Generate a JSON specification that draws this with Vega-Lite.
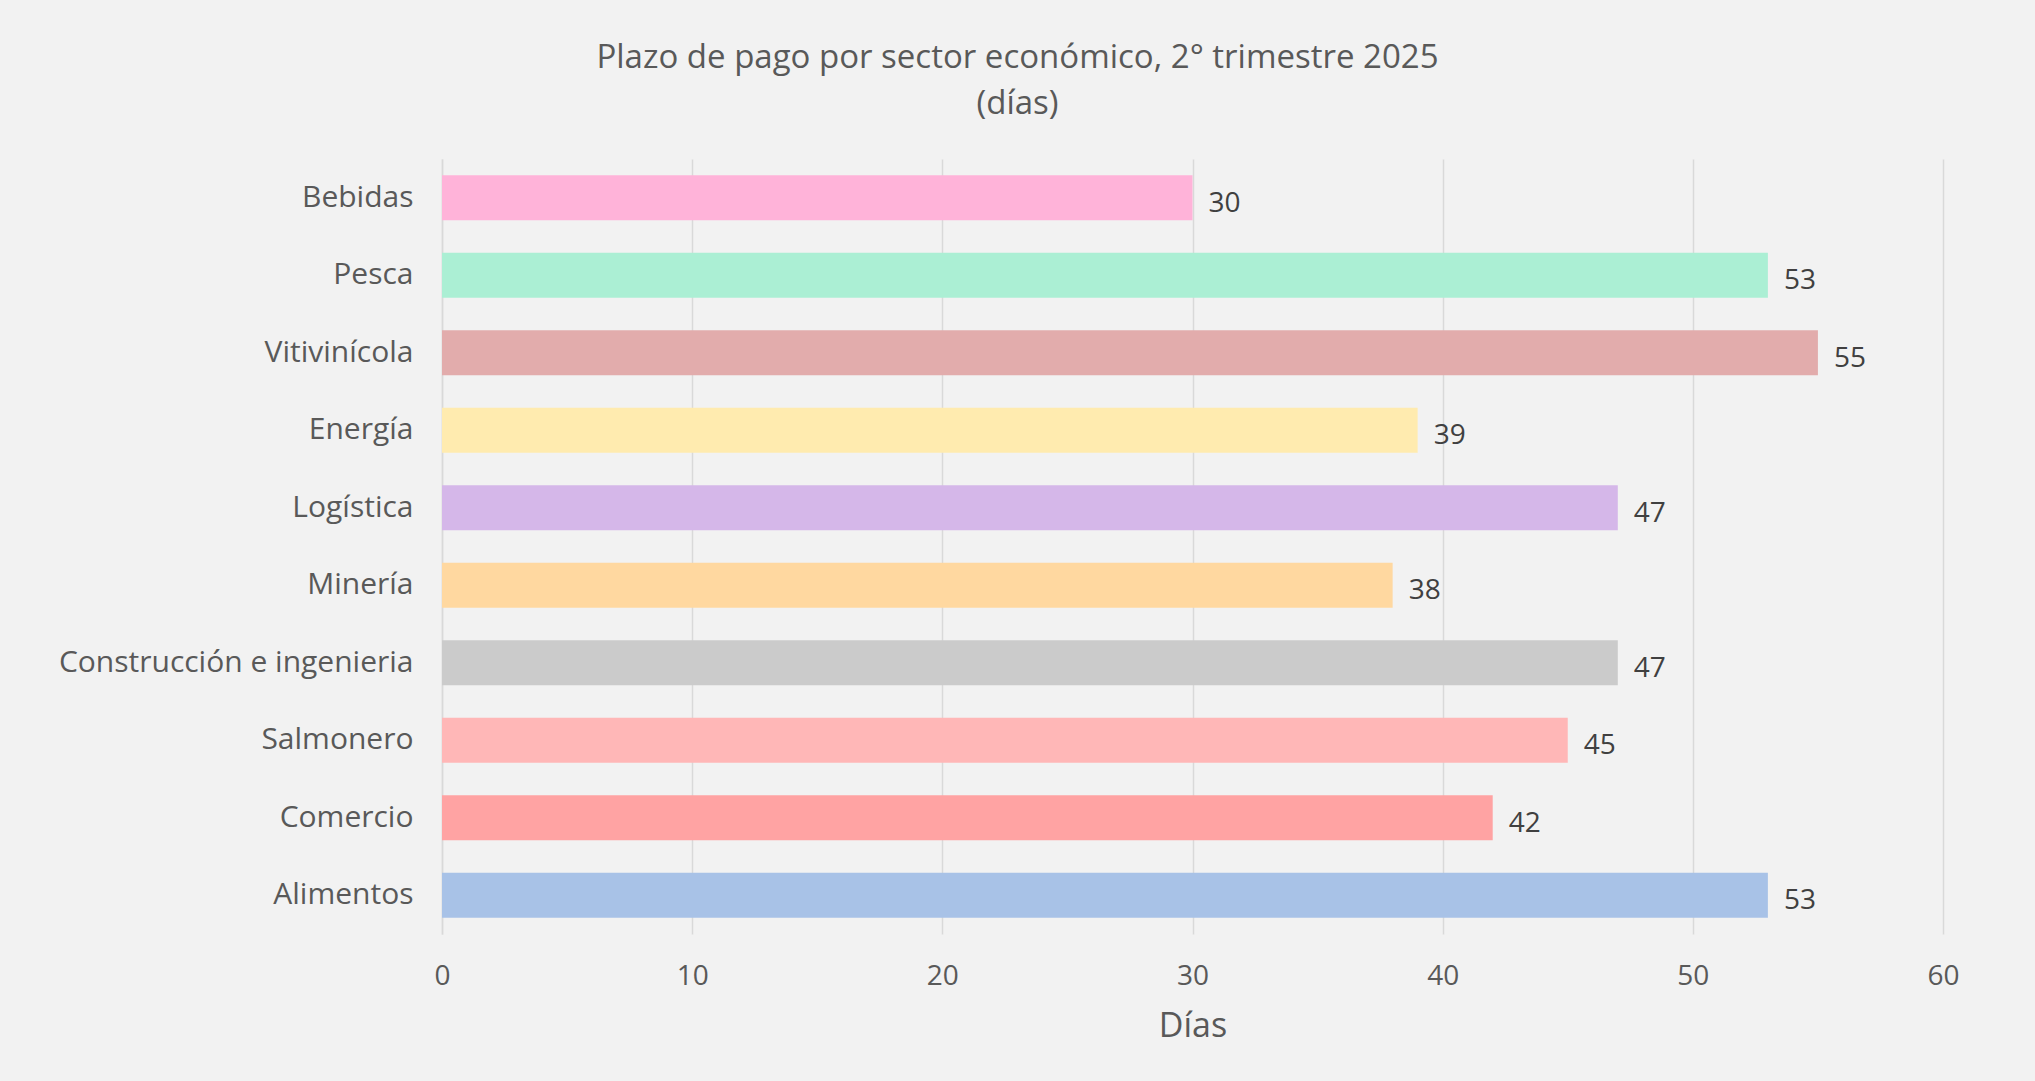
{
  "$schema": "https://vega.github.io/schema/vega-lite/v6.json",
  "autosize": {"type": "none"},
  "padding": {"left": 442, "top": 159, "right": 92, "bottom": 147},
  "width": 1501,
  "height": 775,
  "background": "#f2f2f2",
  "config": {"view": {"stroke": null}},
  "title": {
    "text": ["Plazo de pago por sector económico, 2° trimestre 2025", "(días)"],
    "anchor": "middle",
    "frame": "group",
    "dx": -175,
    "offset": 38,
    "fontSize": 33,
    "lineHeight": 46,
    "fontWeight": "normal",
    "font": "Open Sans",
    "color": "#595959"
  },
  "data": {
    "values": [
      {"sector": "Bebidas", "dias": 30},
      {"sector": "Pesca", "dias": 53},
      {"sector": "Vitivinícola", "dias": 55},
      {"sector": "Energía", "dias": 39},
      {"sector": "Logística", "dias": 47},
      {"sector": "Minería", "dias": 38},
      {"sector": "Construcción e ingenieria", "dias": 47},
      {"sector": "Salmonero", "dias": 45},
      {"sector": "Comercio", "dias": 42},
      {"sector": "Alimentos", "dias": 53}
    ]
  },
  "encoding": {
    "y": {
      "field": "sector",
      "type": "nominal",
      "sort": null,
      "scale": {"paddingInner": 0.42, "paddingOuter": 0.21},
      "axis": {
        "title": null,
        "ticks": false,
        "domain": true,
        "domainColor": "#d9d9d9",
        "domainWidth": 1.5,
        "labelFont": "Open Sans",
        "labelFontSize": 30,
        "labelColor": "#595959",
        "labelPadding": 29,
        "labelLimit": 600
      }
    },
    "x": {
      "field": "dias",
      "type": "quantitative",
      "scale": {"domain": [0, 60], "nice": false},
      "axis": {
        "title": "Días",
        "values": [0, 10, 20, 30, 40, 50, 60],
        "ticks": false,
        "domain": false,
        "grid": true,
        "gridColor": "#d9d9d9",
        "gridWidth": 1.5,
        "labelFlush": false,
        "labelFont": "Open Sans",
        "labelFontSize": 28,
        "labelColor": "#595959",
        "labelPadding": 28,
        "titleFont": "Open Sans",
        "titleFontSize": 34,
        "titleFontWeight": "normal",
        "titleColor": "#595959",
        "titlePadding": 19
      }
    }
  },
  "layer": [
    {
      "mark": {"type": "bar"},
      "encoding": {
        "color": {
          "field": "sector",
          "type": "nominal",
          "legend": null,
          "scale": {
            "domain": ["Bebidas", "Pesca", "Vitivinícola", "Energía", "Logística", "Minería", "Construcción e ingenieria", "Salmonero", "Comercio", "Alimentos"],
            "range": ["#ffb3d9", "#abefd4", "#e2acac", "#ffebaf", "#d5b7e9", "#ffd8a0", "#cbcbcb", "#ffb7b7", "#ffa3a3", "#a8c2e7"]
          }
        }
      }
    },
    {
      "mark": {"type": "text", "align": "left", "baseline": "middle", "dx": 16, "dy": 6, "font": "Open Sans", "fontSize": 28, "color": "#404040"},
      "encoding": {
        "text": {"field": "dias", "type": "quantitative"}
      }
    }
  ]
}
